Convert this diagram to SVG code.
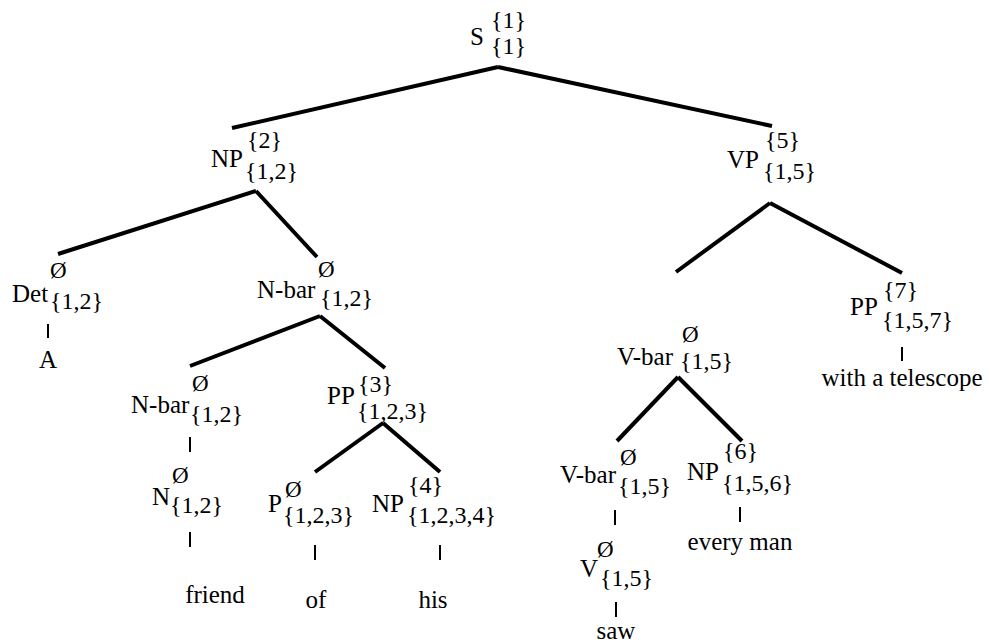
<svg xmlns="http://www.w3.org/2000/svg" width="990" height="644" viewBox="0 0 990 644">
<style>
text{font-family:'Liberation Serif','Times New Roman','DejaVu Serif',serif;font-size:25px;fill:#000}
.s{font-size:24px}
.o{font-size:23px}
.e{stroke:#000;stroke-width:4;fill:none;stroke-linecap:butt}
.t{stroke:#000;stroke-width:2;fill:none}
</style>
<rect width="990" height="644" fill="#fff"/>
<g id="connectors">
<line class="e" x1="498" y1="67" x2="232" y2="128"/>
<line class="e" x1="498" y1="67" x2="772" y2="126"/>
<line class="e" x1="256" y1="191" x2="58" y2="254"/>
<line class="e" x1="256" y1="191" x2="317" y2="257"/>
<line class="e" x1="770" y1="203" x2="676" y2="272"/>
<line class="e" x1="770" y1="203" x2="902" y2="273"/>
<line class="e" x1="320" y1="316" x2="190" y2="366"/>
<line class="e" x1="320" y1="316" x2="385" y2="368"/>
<line class="e" x1="383" y1="423" x2="315" y2="472"/>
<line class="e" x1="383" y1="423" x2="440" y2="472"/>
<line class="e" x1="678" y1="377" x2="617" y2="441"/>
<line class="e" x1="678" y1="377" x2="742" y2="441"/>
<line class="t" x1="48" y1="324" x2="48" y2="338"/>
<line class="t" x1="190" y1="437" x2="190" y2="452"/>
<line class="t" x1="190" y1="532" x2="190" y2="547"/>
<line class="t" x1="315" y1="545" x2="315" y2="560"/>
<line class="t" x1="440" y1="545" x2="440" y2="560"/>
<line class="t" x1="615" y1="510" x2="615" y2="525"/>
<line class="t" x1="740" y1="507" x2="740" y2="522"/>
<line class="t" x1="616" y1="602" x2="616" y2="617"/>
<line class="t" x1="902" y1="347" x2="902" y2="361"/>
</g>
<g font-family="Liberation Serif, Times New Roman, serif">
<g id="S"><text x="470" y="45">S</text><text class="s" x="491" y="28">{1}</text><text class="s" x="491" y="54">{1}</text></g>
<g id="NP2"><text x="243" y="167" text-anchor="end">NP</text><text class="s" x="247" y="148">{2}</text><text class="s" x="245" y="179">{1,2}</text></g>
<g id="VP5"><text x="759" y="168" text-anchor="end">VP</text><text class="s" x="765" y="148">{5}</text><text class="s" x="763" y="179">{1,5}</text></g>
<g id="Det"><text x="12" y="302">Det</text><text class="o" x="50" y="278">Ø</text><text class="s" x="50" y="309">{1,2}</text></g>
<g id="A"><text x="48" y="368" text-anchor="middle">A</text></g>
<g id="Nbar1"><text x="257" y="298">N-bar</text><text class="o" x="318" y="277">Ø</text><text class="s" x="320" y="306">{1,2}</text></g>
<g id="Nbar2"><text x="131" y="413">N-bar</text><text class="o" x="192" y="391">Ø</text><text class="s" x="190" y="422">{1,2}</text></g>
<g id="PP3"><text x="327" y="404">PP</text><text class="s" x="358" y="392">{3}</text><text class="s" x="357" y="419">{1,2,3}</text></g>
<g id="N"><text x="152" y="505">N</text><text class="o" x="172" y="483">Ø</text><text class="s" x="170" y="513">{1,2}</text></g>
<g id="friend"><text x="215" y="603" text-anchor="middle">friend</text></g>
<g id="P"><text x="268" y="512">P</text><text class="o" x="285" y="497">Ø</text><text class="s" x="283" y="523">{1,2,3}</text></g>
<g id="of"><text x="316" y="608" text-anchor="middle">of</text></g>
<g id="NP4"><text x="372" y="512">NP</text><text class="s" x="408" y="493">{4}</text><text class="s" x="407" y="523">{1,2,3,4}</text></g>
<g id="his"><text x="433" y="608" text-anchor="middle">his</text></g>
<g id="Vbar1"><text x="617" y="365">V-bar</text><text class="o" x="682" y="342">Ø</text><text class="s" x="680" y="369">{1,5}</text></g>
<g id="PP7"><text x="850" y="315">PP</text><text class="s" x="883" y="298">{7}</text><text class="s" x="882" y="328">{1,5,7}</text></g>
<g id="telescope"><text x="902" y="386" text-anchor="middle">with a telescope</text></g>
<g id="Vbar2"><text x="560" y="483">V-bar</text><text class="o" x="620" y="465">Ø</text><text class="s" x="618" y="494">{1,5}</text></g>
<g id="NP6"><text x="687" y="480">NP</text><text class="s" x="723" y="459">{6}</text><text class="s" x="722" y="491">{1,5,6}</text></g>
<g id="everyman"><text x="740" y="550" text-anchor="middle">every man</text></g>
<g id="V"><text x="580" y="577">V</text><text class="o" x="597" y="557">Ø</text><text class="s" x="600" y="586">{1,5}</text></g>
<g id="saw"><text x="616" y="639" text-anchor="middle">saw</text></g>
</g>
</svg>
